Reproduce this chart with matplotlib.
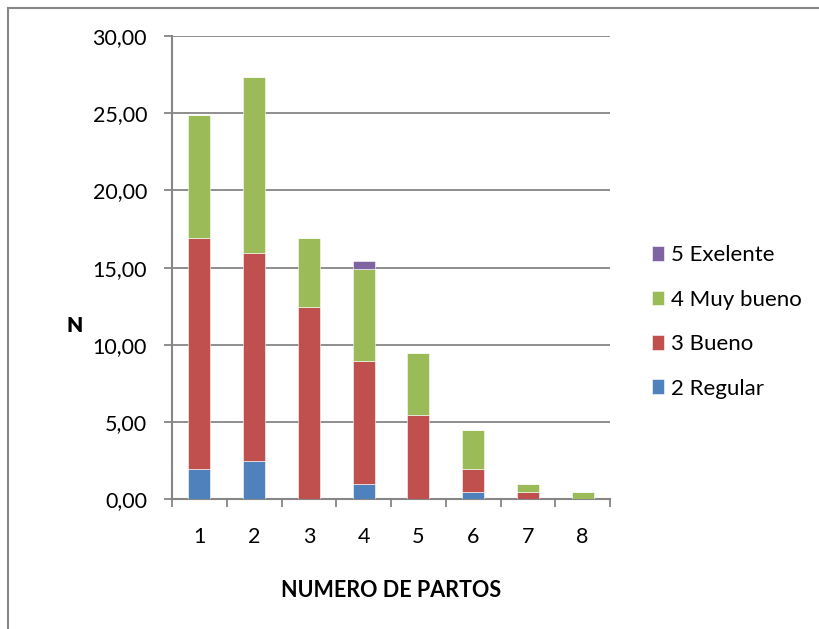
import numpy as np
import matplotlib.pyplot as plt
from matplotlib.patches import Rectangle
from matplotlib.ticker import FuncFormatter, MultipleLocator

plt.rcParams['font.family'] = ['Lato', 'DejaVu Sans']

partos = ['1', '2', '3', '4', '5', '6', '7', '8']
regular = [1.99, 2.49, 0.00, 1.00, 0.00, 0.50, 0.00, 0.00]
bueno = [14.93, 13.43, 12.44, 7.96, 5.47, 1.49, 0.50, 0.00]
muy_bueno = [7.96, 11.44, 4.48, 5.97, 3.98, 2.49, 0.50, 0.50]
exelente = [0.00, 0.00, 0.00, 0.50, 0.00, 0.00, 0.00, 0.00]

series = [
    ('2 Regular', regular, '#4F81BD'),
    ('3 Bueno', bueno, '#C0504D'),
    ('4 Muy bueno', muy_bueno, '#9BBB59'),
    ('5 Exelente', exelente, '#8064A2'),
]

grey = '#868686'

fig = plt.figure(figsize=(8.19, 6.29), dpi=100)
ax = fig.add_axes([172 / 819, 1 - 499.3 / 629, 438 / 819, 463.3 / 629])

pos = np.arange(len(partos))
bottom = np.zeros(len(partos))
handles = []
for name, vals, color in series:
    vals = np.array(vals)
    bars = ax.bar(pos, vals, 0.4, bottom=bottom, color=color, label=name,
                  edgecolor='white', linewidth=0.4, zorder=3)
    handles.append(bars)
    bottom += vals

ax.set_xlim(-0.5, len(partos) - 0.5)
ax.set_ylim(0, 30)
ax.yaxis.set_major_locator(MultipleLocator(5))
ax.yaxis.set_major_formatter(FuncFormatter(lambda v, p: f'{v:.2f}'.replace('.', ',')))
ax.yaxis.grid(True, color=grey, linewidth=1.3, zorder=0)
ax.set_axisbelow(True)

ax.set_xticks(pos)
ax.set_xticklabels(partos)
ax.set_xticks(np.arange(-0.5, len(partos)), minor=True)
ax.tick_params(axis='x', which='major', length=0, pad=20, labelsize=15.5)
ax.tick_params(axis='x', which='minor', length=6, width=1.3, color=grey, direction='out')
ax.tick_params(axis='y', length=6, width=1.3, color=grey, pad=12, labelsize=15.5)

for s in ['top', 'right']:
    ax.spines[s].set_visible(False)
for s in ['left', 'bottom']:
    ax.spines[s].set_color(grey)
    ax.spines[s].set_linewidth(1.5)

ax.set_xlabel('NUMERO DE PARTOS', fontsize=15.5, fontweight='bold', labelpad=24)

# collapsed vertical axis title
fig.text(75 / 819, 1 - 326 / 629, 'N', fontsize=15, fontweight='heavy',
         ha='center', va='center')

fig.legend(handles[::-1], [s[0] for s in series][::-1],
           loc='center left', bbox_to_anchor=(632 / 819, 1 - 322 / 629),
           frameon=False, fontsize=16, handlelength=0.55, handleheight=0.65,
           handletextpad=0.3, labelspacing=1.1)

# chart area border
fig.patches.append(Rectangle((8 / 819, -0.05), 1.1, 1 - 8 / 629 + 0.05,
                             transform=fig.transFigure, fill=False,
                             edgecolor=grey, linewidth=1.5))

fig.savefig('out.png', dpi=100)
